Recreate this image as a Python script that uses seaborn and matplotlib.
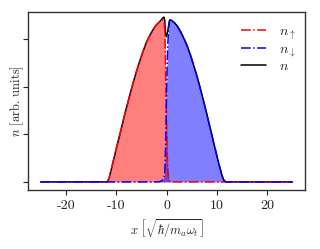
import numpy as np
import pandas as pd
import seaborn as sns
import matplotlib
matplotlib.use("Agg")
import matplotlib.pyplot as plt

# posiciones x y densidades
x_vals = [-25, -12.0, -11.7, -11.4, -11.0, -10.5, -10.0, -9.5, -9.0, -8.5, -8.0,
          -7.5, -7.0, -6.5, -6.0, -5.5, -5.0, -4.5, -4.0, -3.5, -3.0, -2.5,
          -2.0, -1.5, -1.0, -0.7, -0.5, -0.35, -0.2, 0.0, 0.2, 0.4, 0.6, 0.8,
          1.0, 1.5, 2.0, 2.5, 3.0, 3.5, 4.0, 4.5, 5.0, 5.5, 6.0, 6.5, 7.0,
          7.5, 8.0, 8.5, 9.0, 9.5, 10.0, 10.5, 11.0, 11.3, 11.6, 11.9, 25]

n_up = [0.0, 0.0, 0.01, 0.08, 0.25, 0.47, 0.69, 0.90, 1.11, 1.33, 1.54,
        1.74, 1.94, 2.13, 2.31, 2.48, 2.64, 2.79, 2.93, 3.04, 3.14, 3.23,
        3.30, 3.35, 3.39, 3.40, 3.36, 3.20, 2.40, 1.20, 0.35, 0.08, 0.02, 0.0,
        0.0, 0.0, 0.0, 0.0, 0.0, 0.0, 0.0, 0.0, 0.0, 0.0, 0.0, 0.0, 0.0,
        0.0, 0.0, 0.0, 0.0, 0.0, 0.0, 0.0, 0.0, 0.0, 0.0, 0.0, 0.0]

n_down = [0.0, 0.0, 0.0, 0.0, 0.0, 0.0, 0.0, 0.0, 0.0, 0.0, 0.0,
          0.0, 0.0, 0.0, 0.0, 0.0, 0.0, 0.0, 0.0, 0.0, 0.0, 0.0,
          0.0, 0.0, 0.02, 0.05, 0.10, 0.18, 0.70, 1.85, 2.80, 3.20, 3.38, 3.40,
          3.39, 3.35, 3.29, 3.21, 3.11, 3.00, 2.88, 2.74, 2.58, 2.41, 2.23, 2.04, 1.84,
          1.63, 1.42, 1.20, 0.98, 0.76, 0.54, 0.33, 0.14, 0.05, 0.01, 0.0, 0.0]

df = pd.DataFrame({"x": x_vals, "n_up": n_up, "n_down": n_down})
df["n"] = df["n_up"] + df["n_down"]

sns.set_theme(style="ticks")
plt.rcParams["font.family"] = "serif"
plt.rcParams["font.serif"] = ["cmr10", "DejaVu Serif"]
plt.rcParams["mathtext.fontset"] = "cm"
plt.rcParams["axes.unicode_minus"] = False
plt.rcParams["axes.formatter.use_mathtext"] = False

fig = plt.figure(figsize=(3.2, 2.49), dpi=100)
ax = fig.add_axes([0.0875, 0.237, 0.866, 0.715])

ax.fill_between(df["x"], df["n_up"], color="red", alpha=0.5, linewidth=0)
ax.fill_between(df["x"], df["n_down"], color="blue", alpha=0.5, linewidth=0)

sns.lineplot(data=df, x="x", y="n", color="black", linewidth=1.1, ax=ax, label=r"$n$")
sns.lineplot(data=df, x="x", y="n_up", color="red", linestyle="-.", linewidth=1.1,
             ax=ax, label=r"$n_\uparrow$")
sns.lineplot(data=df, x="x", y="n_down", color="blue", linestyle="-.", linewidth=1.1,
             ax=ax, label=r"$n_\downarrow$")

handles, labels = ax.get_legend_handles_labels()
orden = [1, 2, 0]
ax.legend([handles[i] for i in orden], [labels[i] for i in orden],
          loc="upper right", bbox_to_anchor=(0.985, 0.955), borderaxespad=0,
          frameon=False, fontsize=10, handlelength=1.8,
          labelspacing=0.1, handletextpad=0.9)

ax.set_xlim(-27.5, 27.5)
ax.set_ylim(-0.17, 3.57)
ax.set_xticks([-20, -10, 0, 10, 20])
ax.set_yticks([0, 1, 2, 3])
ax.set_yticklabels([])
ax.tick_params(labelsize=10, length=3.5, width=0.8, colors="#222222")
for s in ax.spines.values():
    s.set_color("#333333")
    s.set_linewidth(1.0)

ax.set_xlabel(r"$x\ \left[\sqrt{\hbar/m_a\omega_t}\right]$", fontsize=9)
ax.set_ylabel(r"$n$ [arb. units]", fontsize=9)
ax.yaxis.set_label_coords(-0.008, 0.5)

fig.savefig("out.png", dpi=100)
